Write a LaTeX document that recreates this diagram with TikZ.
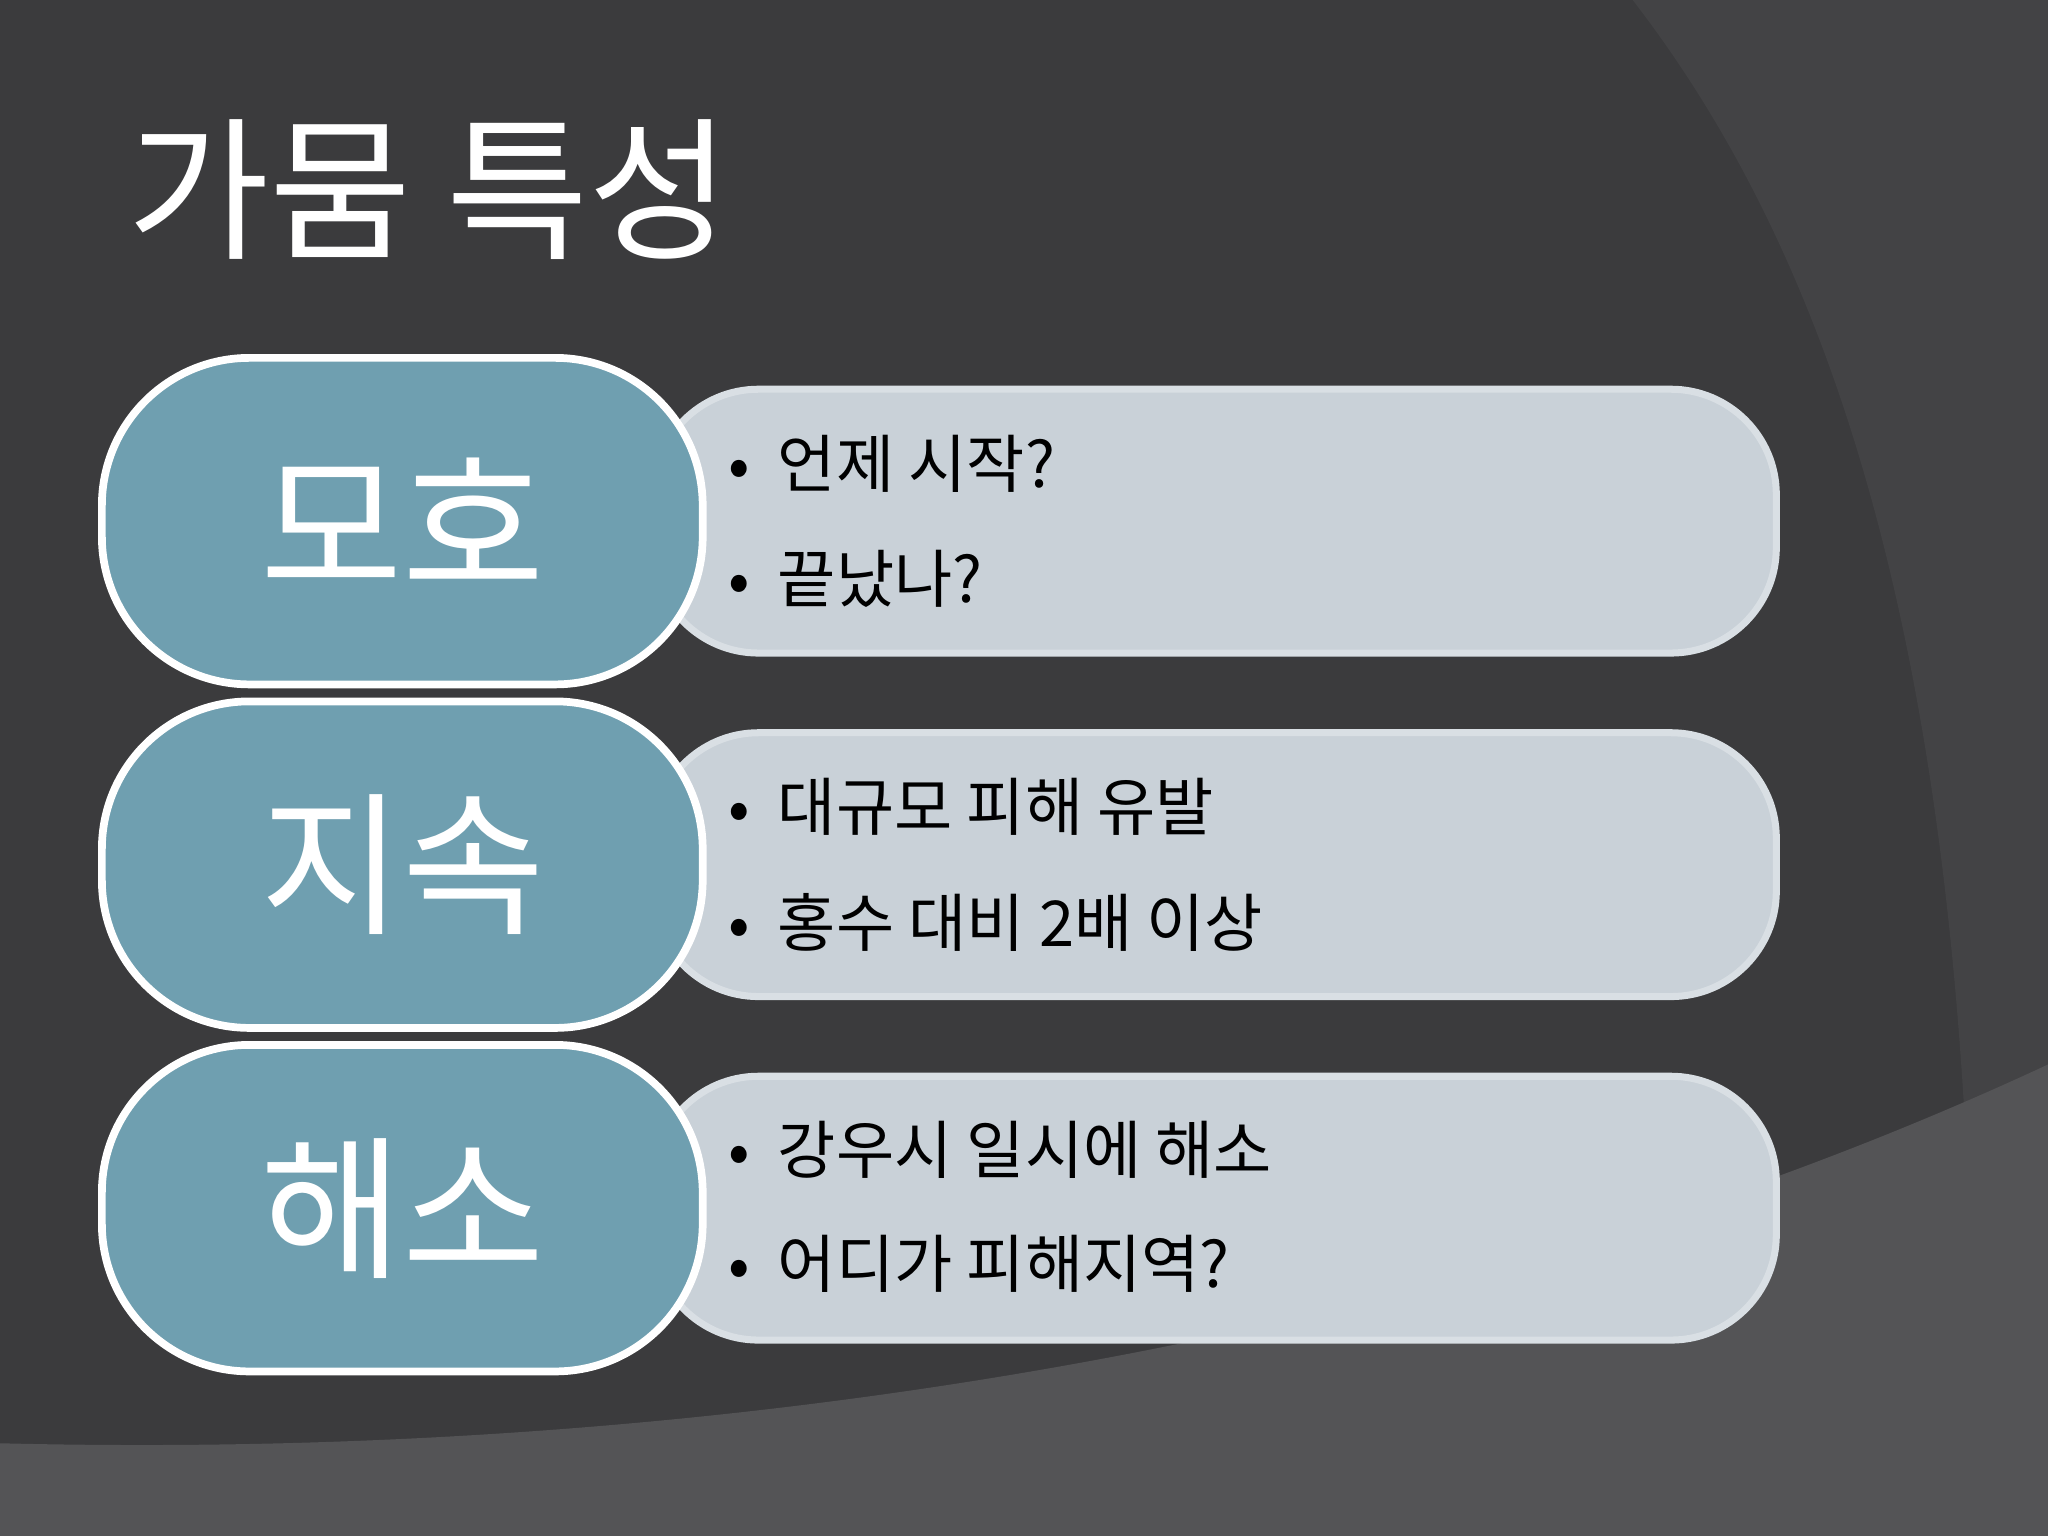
\documentclass[tikz,border=0pt]{standalone}
\usepackage{fontspec}
\setmainfont{Noto Sans CJK KR}
\definecolor{bg}{HTML}{3B3B3D}
\definecolor{bgl}{HTML}{434345}
\definecolor{bgb}{HTML}{545456}
\definecolor{lbox}{HTML}{6F9FB0}
\definecolor{rbox}{HTML}{C9D1D8}
\tikzset{
 lb/.style={draw=white,line width=2.2pt,fill=lbox,rounded corners=42pt},
 rb/.style={draw=rbox!70!white,line width=2pt,fill=rbox,rounded corners=30pt},
 lt/.style={text=white,font=\fontsize{44}{48}\selectfont},
 bt/.style={anchor=west,text=black,font=\fontsize{18}{20}\selectfont}
}
\begin{document}
\begin{tikzpicture}[x=0.013061cm,y=-0.013061cm]
\fill[bg] (0,0) rectangle (1568,1176);
\useasboundingbox (0,0) rectangle (1568,1176);
\fill[bgl] (1250,0) .. controls (1420,220) and (1520,560) .. (1510,1176) -- (1568,1176) -- (1568,0) -- cycle;
\fill[bgb] (0,1105) .. controls (600,1120) and (1150,1010) .. (1568,815) -- (1568,1176) -- (0,1176) -- cycle;
\node[anchor=west,text=white,font=\fontsize{44}{48}\selectfont] (title) at (88,145) {가뭄 특성};
\foreach \y/\n in {274/a,537/b,800/c}{
  \draw[rb] (500,\y+24) rectangle (1360,\y+226);
  \draw[lb] (78,\y) rectangle (538,\y+250);
}
\node[lt] (l1) at (308,399) {모호};
\node[lt] (l2) at (308,662) {지속};
\node[lt] (l3) at (308,925) {해소};
\node[bt] (t1) at (548,355) {•\ \ 언제 시작?};
\node[bt] (t2) at (548,443) {•\ \ 끝났나?};
\node[bt] (t3) at (548,618) {•\ \ 대규모 피해 유발};
\node[bt] (t4) at (548,706) {•\ \ 홍수 대비 2배 이상};
\node[bt] (t5) at (548,880) {•\ \ 강우시 일시에 해소};
\node[bt] (t6) at (548,968) {•\ \ 어디가 피해지역?};
\end{tikzpicture}
\end{document}
